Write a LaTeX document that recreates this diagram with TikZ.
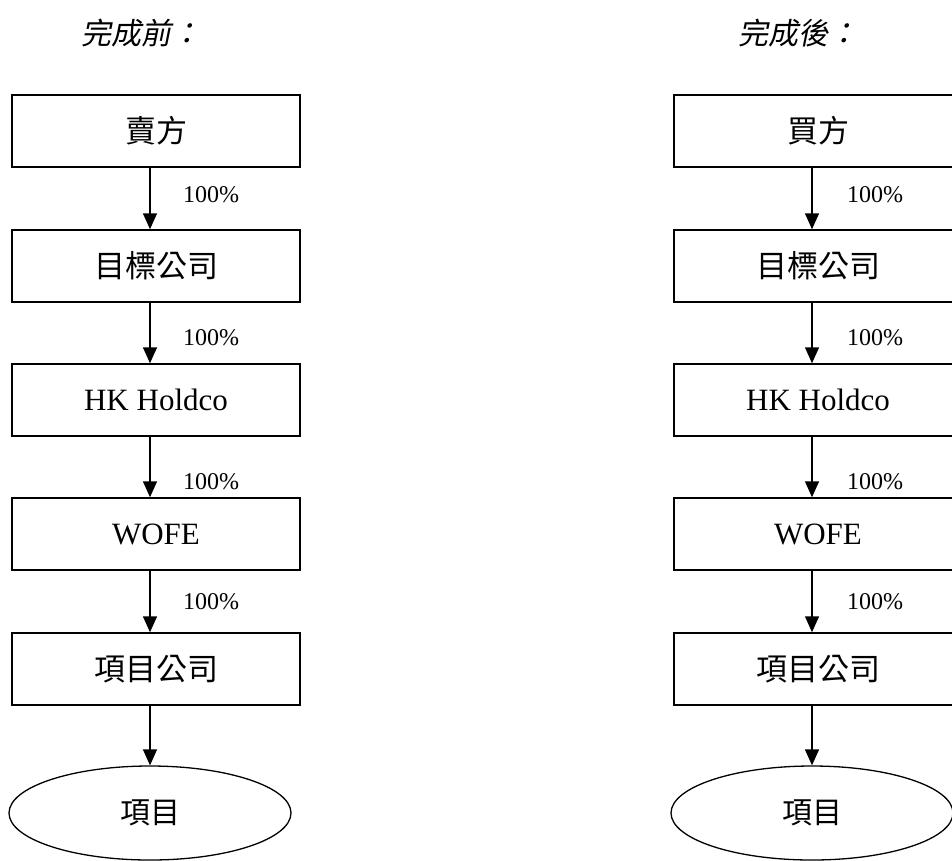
\documentclass[tikz,border=0pt]{standalone}
\usepackage{fontspec}
\setmainfont{Liberation Serif}
\newfontfamily\cjk{Noto Sans CJK TC}
\newfontfamily\cjkit[FakeSlant=0.2]{Noto Sans CJK TC}
\usetikzlibrary{shapes.geometric,arrows.meta}

\tikzset{
  box/.style={draw, line width=1.5pt, minimum width=288pt, minimum height=72pt,
    inner sep=0pt, font=\fontsize{31}{36}\selectfont},
  oval/.style={draw, ellipse, line width=1.3pt, minimum width=282pt,
    minimum height=94pt, inner sep=0pt, font=\fontsize{30}{36}\selectfont\cjk},
  pct/.style={anchor=west, inner sep=0pt, font=\fontsize{24}{28}\selectfont},
  hdr/.style={font=\fontsize{30}{34}\selectfont\cjkit},
  arr/.style={line width=1.5pt, -{Triangle[width=14pt,length=16pt]}}
}

\begin{document}
\begin{tikzpicture}[x=1pt,y=-1pt]
    \useasboundingbox (0,0) rectangle (952,860);
    \clip (0,0) rectangle (952,860);

    % before
    \node[hdr] (hdrL) at (141,33) {完成前：};
    \node[box] (sellL) at (156,131) {\cjk 賣方};
    \node[box] (tgtL) at (156,266) {\cjk 目標公司};
    \node[box] (hkL) at (156,400) {HK Holdco};
    \node[box] (wofeL) at (156,534) {WOFE};
    \node[box] (pcoL) at (156,669) {\cjk 項目公司};
    \node[oval] (projL) at (150,813) {項目};

    \draw[arr] ([xshift=-6pt]sellL.south) -- ([xshift=-6pt]tgtL.north);
    \draw[arr] ([xshift=-6pt]tgtL.south) -- ([xshift=-6pt]hkL.north);
    \draw[arr] ([xshift=-6pt]hkL.south) -- ([xshift=-6pt]wofeL.north);
    \draw[arr] ([xshift=-6pt]wofeL.south) -- ([xshift=-6pt]pcoL.north);
    \draw[arr] ([xshift=-6pt]pcoL.south) -- (projL.north);

    \node[pct] (p1L) at (183,195) {100\%};
    \node[pct] (p2L) at (183,338) {100\%};
    \node[pct] (p3L) at (183,482) {100\%};
    \node[pct] (p4L) at (183,602) {100\%};

    % after
    \node[hdr] (hdrR) at (798,33) {完成後：};
    \node[box] (buyR) at (818,131) {\cjk 買方};
    \node[box] (tgtR) at (818,266) {\cjk 目標公司};
    \node[box] (hkR) at (818,400) {HK Holdco};
    \node[box] (wofeR) at (818,534) {WOFE};
    \node[box] (pcoR) at (818,669) {\cjk 項目公司};
    \node[oval] (projR) at (812,813) {項目};

    \draw[arr] ([xshift=-6pt]buyR.south) -- ([xshift=-6pt]tgtR.north);
    \draw[arr] ([xshift=-6pt]tgtR.south) -- ([xshift=-6pt]hkR.north);
    \draw[arr] ([xshift=-6pt]hkR.south) -- ([xshift=-6pt]wofeR.north);
    \draw[arr] ([xshift=-6pt]wofeR.south) -- ([xshift=-6pt]pcoR.north);
    \draw[arr] ([xshift=-6pt]pcoR.south) -- (projR.north);

    \node[pct] (p1R) at (847,195) {100\%};
    \node[pct] (p2R) at (847,338) {100\%};
    \node[pct] (p3R) at (847,482) {100\%};
    \node[pct] (p4R) at (847,602) {100\%};
\end{tikzpicture}
\end{document}
